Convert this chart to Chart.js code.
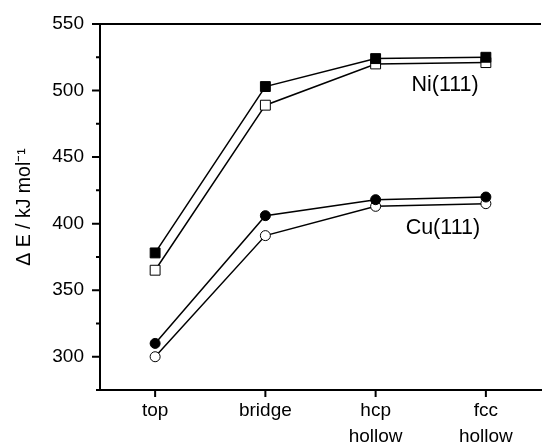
<!DOCTYPE html>
<html>
<head>
<meta charset="utf-8">
<script src="https://cdn.jsdelivr.net/npm/chart.js@4"></script>
<style>
  html, body { margin: 0; padding: 0; background: #fff; }
  #wrap { width: 549px; height: 444px; position: relative; }
</style>
</head>
<body>
<div id="wrap"><canvas id="energyChart"></canvas></div>
<script>
// adsorption sites on the x axis
const sites = ['top', 'bridge', ['hcp', 'hollow'], ['fcc', 'hollow']];

// Delta E in kJ/mol
const niFilled = [378, 503, 524, 525];
const niOpen = [365, 489, 520, 521];
const cuFilled = [310, 406, 418, 420];
const cuOpen = [300, 391, 413, 415];

const yTicks = [300, 350, 400, 450, 500, 550];

const font = 'Liberation Sans, Arial, Helvetica, sans-serif';

// ticks, top border and the Ni / Cu labels
const frame = {
    id: 'frame',
    afterDraw(chart) {
        const ctx = chart.ctx;
        const a = chart.chartArea;
        const xs = chart.scales.x;
        const ys = chart.scales.y;
        ctx.save();
        ctx.strokeStyle = '#000';
        ctx.lineWidth = 2;
        ctx.beginPath();
        ctx.moveTo(a.left, a.top);
        ctx.lineTo(a.right, a.top);
        // x ticks
        sites.forEach((s, i) => {
            const px = xs.getPixelForValue(i);
            ctx.moveTo(px, a.bottom);
            ctx.lineTo(px, a.bottom + 7);
        });
        // y ticks, minor every 25
        for (let v = 275; v <= 550; v += 25) {
            const py = ys.getPixelForValue(v);
            const len = v % 50 === 0 ? 8 : 4;
            ctx.moveTo(a.left, py);
            ctx.lineTo(a.left - len, py);
        }
        ctx.stroke();

        ctx.fillStyle = '#000';
        ctx.font = '21.5px ' + font;
        ctx.textAlign = 'center';
        ctx.textBaseline = 'middle';
        ctx.fillText('Ni(111)', xs.getPixelForValue(2.63), ys.getPixelForValue(504));
        ctx.fillText('Cu(111)', xs.getPixelForValue(2.61), ys.getPixelForValue(397));
        ctx.restore();
    }
};

function series(data, style, filled, radius) {
    return {
        data: data,
        borderColor: '#000',
        borderWidth: 1.5,
        pointStyle: style,
        pointRadius: radius,
        pointBorderWidth: 1,
        pointBackgroundColor: filled ? '#000' : '#fff',
        pointBorderColor: '#000',
        tension: 0,
        fill: false
    };
}

let energyChart = new Chart('energyChart', {
    type: 'line',
    data: {
        labels: sites,
        datasets: [
            series(niFilled, 'rect', true, 7),
            series(niOpen, 'rect', false, 7),
            series(cuFilled, 'circle', true, 5),
            series(cuOpen, 'circle', false, 5)
        ]
    },
    plugins: [frame],
    options: {
        responsive: true,
        maintainAspectRatio: false,
        animation: false,
        layout: {
            padding: { top: 24, right: 0, left: 0, bottom: 0 }
        },
        scales: {
            x: {
                offset: true,
                grid: { display: false, drawTicks: false },
                border: { display: true, color: '#000', width: 2 },
                ticks: {
                    color: '#000',
                    font: { family: font, size: 19, lineHeight: 1.4 },
                    padding: 7,
                    maxRotation: 0,
                    autoSkip: false
                },
                afterFit: s => { s.height = 54; }
            },
            y: {
                min: 275,
                max: 550,
                afterBuildTicks: s => { s.ticks = yTicks.map(v => ({ value: v })); },
                grid: { display: false, drawTicks: false },
                border: { display: true, color: '#000', width: 2 },
                ticks: {
                    color: '#000',
                    font: { family: font, size: 19 },
                    padding: 16
                },
                title: {
                    display: true,
                    text: 'Δ E / kJ mol⁻¹',
                    color: '#000',
                    font: { family: font, size: 19.5 },
                    padding: { top: 13, bottom: 0 }
                },
                afterFit: s => { s.width = 100; s.paddingTop = 0; s.paddingBottom = 0; }
            }
        },
        plugins: {
            legend: { display: false },
            tooltip: { enabled: false }
        }
    }
});
</script>
</body>
</html>
